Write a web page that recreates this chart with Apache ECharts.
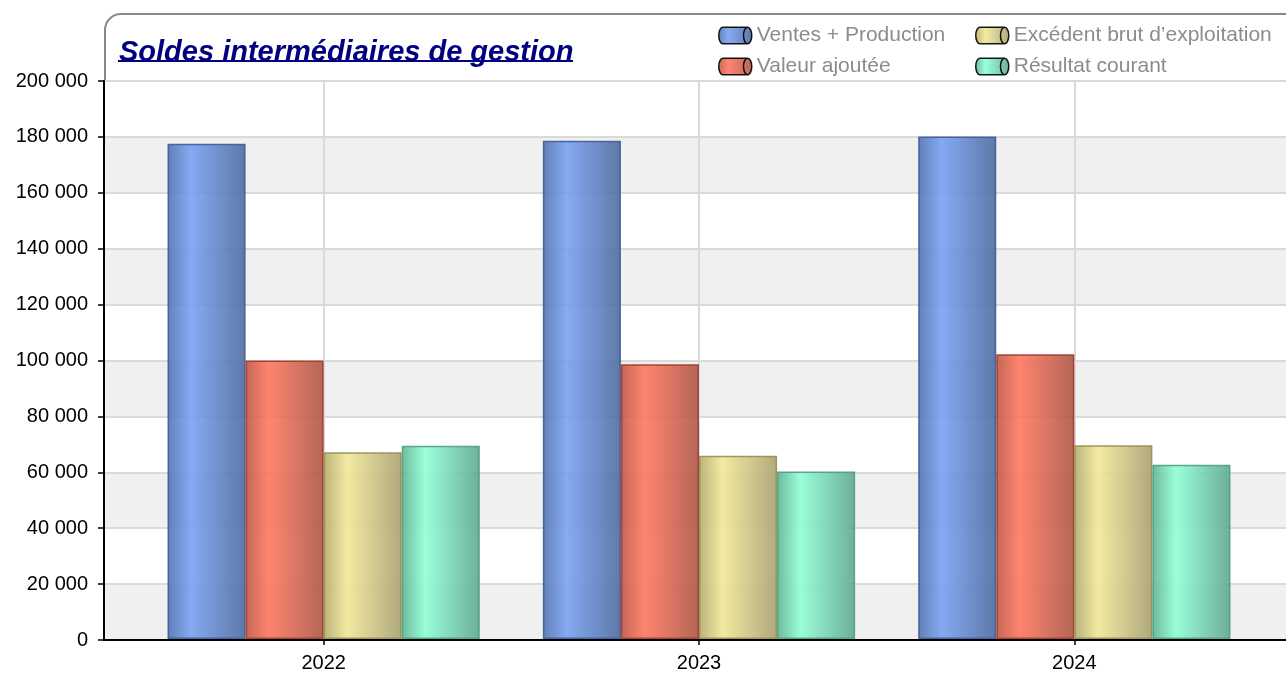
<!DOCTYPE html>
<html>
<head>
<meta charset="utf-8">
<script src="https://cdn.jsdelivr.net/npm/echarts@6/dist/echarts.min.js"></script>
<style>
  html, body { margin: 0; padding: 0; background: #fff; }
  #chart { width: 1286px; height: 673px; }
</style>
</head>
<body>
<div id="chart"></div>
<script>
  var years = ['2022', '2023', '2024'];
  var ventes = [177500, 178600, 180100];
  var valeurAjoutee = [99800, 98500, 102100];
  var ebe = [66900, 65700, 69400];
  var resultat = [69300, 60000, 62500];

  var myChart = echarts.init(document.getElementById('chart'));

  var font = '"Liberation Sans", Arial, sans-serif';
  // cylinder icon: capsule outline plus the visible end ellipse
  var cylinder = 'path://M4,0 H28 A4,8 0 0 1 28,16 H4 A4,8 0 0 1 4,0 Z M28,16 A4,8 0 0 1 28,0';

  function grad(c0, c1, c2) {
    return new echarts.graphic.LinearGradient(0, 0, 1, 0, [
      {offset: 0, color: c0},
      {offset: 0.3, color: c1},
      {offset: 1, color: c2}
    ]);
  }

  function bars(name, data, c0, c1, c2, border) {
    return {
      name: name,
      type: 'bar',
      xAxisIndex: 1,
      yAxisIndex: 1,
      data: data,
      barGap: '0%',
      barCategoryGap: '16.8%',
      itemStyle: {
        color: grad(c0, c1, c2),
        borderColor: border,
        borderWidth: 1.5,
        opacity: 0.9
      },
      emphasis: {disabled: true}
    };
  }

  function fmt(v) {
    return String(v).replace(/\B(?=(\d{3})+(?!\d))/g, ' ');
  }

  var legendBase = {
    orient: 'vertical',
    top: 20,
    itemWidth: 33,
    itemHeight: 17,
    itemGap: 10,
    icon: cylinder,
    selectedMode: false,
    itemStyle: {borderColor: '#000', borderWidth: 1.5},
    textStyle: {color: '#8c8c8c', fontSize: 21, fontFamily: font, padding: [0, 0, 0, 0]}
  };

  var option = {
    backgroundColor: '#fff',
    animation: false,
    title: {
      text: 'Soldes intermédiaires de gestion',
      left: 114,
      top: 33,
      textStyle: {
        color: '#000080',
        fontSize: 29,
        fontWeight: 'bold',
        fontStyle: 'italic',
        fontFamily: font
      }
    },
    legend: [
      Object.assign({}, legendBase, {left: 713, data: ['Ventes + Production', 'Valeur ajoutée']}),
      Object.assign({}, legendBase, {left: 970, data: ['Excédent brut d’exploitation', 'Résultat courant']})
    ],
    graphic: [
      {
        type: 'rect',
        z: 0,
        shape: {x: 105, y: 14, width: 1300, height: 67, r: [16, 0, 0, 0]},
        style: {fill: '#fff', stroke: '#888', lineWidth: 2}
      },
      {
        type: 'line',
        z: 10,
        shape: {x1: 118, y1: 61, x2: 573, y2: 61},
        style: {stroke: '#000080', lineWidth: 2}
      }
    ],
    grid: [
      {left: 104, right: -10, top: 81, bottom: 33},
      {left: 136, right: 24, top: 81, bottom: 33}
    ],
    xAxis: [
      {
        type: 'value',
        gridIndex: 0,
        min: 0,
        max: 1,
        axisLine: {show: true, lineStyle: {color: '#000', width: 2}},
        axisTick: {show: false},
        axisLabel: {show: false},
        splitLine: {show: false}
      },
      {
        type: 'category',
        gridIndex: 1,
        data: years,
        axisLine: {show: false},
        axisTick: {show: true, alignWithLabel: true, length: 6, lineStyle: {color: '#000', width: 1.5}},
        axisLabel: {color: '#000', fontSize: 20, fontFamily: font, margin: 14},
        splitLine: {show: true, alignWithLabel: true, lineStyle: {color: '#dadada', width: 2}}
      }
    ],
    yAxis: [
      {
        type: 'value',
        gridIndex: 0,
        min: 0,
        max: 200000,
        interval: 20000,
        axisLine: {show: true, lineStyle: {color: '#000', width: 2}},
        axisTick: {show: true, length: 6, lineStyle: {color: '#000', width: 1.5}},
        axisLabel: {color: '#000', fontSize: 20, fontFamily: font, margin: 16, formatter: fmt},
        splitLine: {show: true, lineStyle: {color: '#dadada', width: 2}},
        splitArea: {show: true, areaStyle: {color: ['#f0f0f0', '#ffffff']}}
      },
      {
        type: 'value',
        gridIndex: 1,
        min: 0,
        max: 200000,
        show: false
      }
    ],
    series: [
      bars('Ventes + Production', ventes, '#5272b0', '#78a2f2', '#4e6a9e', '#3e5a98'),
      bars('Valeur ajoutée', valeurAjoutee, '#c05846', '#ff7860', '#ad5646', '#a03a2a'),
      bars('Excédent brut d’exploitation', ebe, '#b4ac6e', '#f2e898', '#a8a070', '#968e50'),
      bars('Résultat courant', resultat, '#5eb494', '#90ffd6', '#5ea690', '#4e9e80')
    ]
  };

  myChart.setOption(option);
</script>
</body>
</html>
